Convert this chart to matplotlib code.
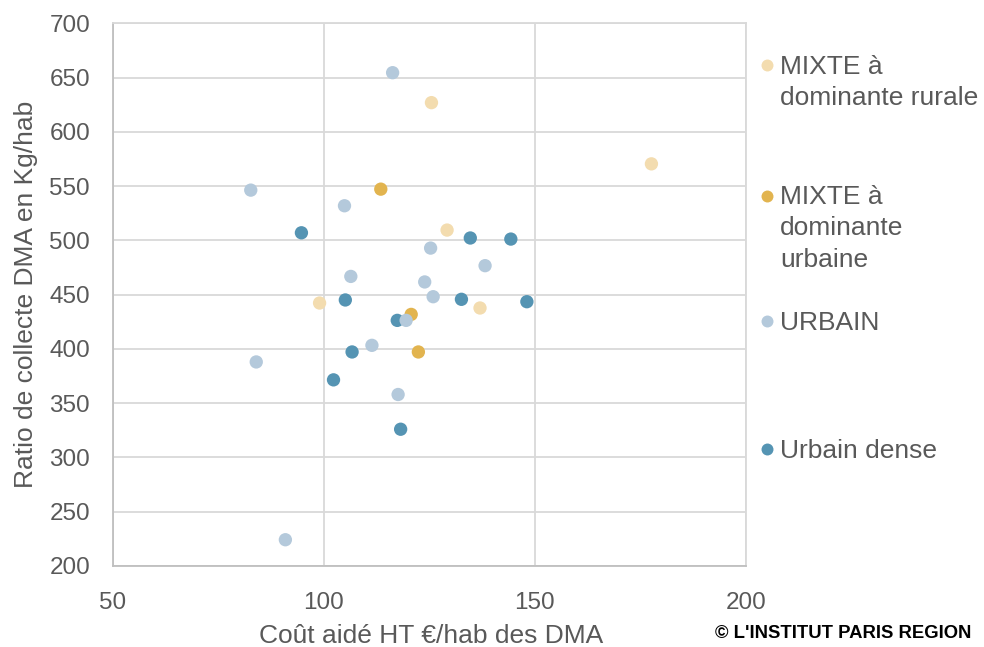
import matplotlib
matplotlib.use("Agg")
import matplotlib.pyplot as plt
from matplotlib.lines import Line2D

plt.rcParams['font.family'] = ['Liberation Sans', 'DejaVu Sans']

categories = ["MIXTE à\ndominante rurale", "MIXTE à\ndominante\nurbaine", "URBAIN", "Urbain dense"]
colors = ["#F3DCAF", "#E2B44F", "#B4C9DB", "#5594B3"]

rural_x = [125.5, 177.6, 129.2, 99.0, 137.0]
rural_y = [626.9, 570.5, 509.5, 442.3, 437.7]

mixurb_x = [113.5, 120.7, 122.4]
mixurb_y = [547.2, 431.8, 397.2]

urbain_x = [116.3, 82.7, 104.9, 125.3, 106.4, 123.9, 125.9, 138.2, 119.5, 111.4, 84.0, 117.6, 90.9]
urbain_y = [654.5, 546.3, 531.9, 492.9, 466.8, 461.7, 448.1, 476.7, 426.3, 403.3, 388.0, 358.0, 224.2]

dense_x = [94.7, 105.1, 134.7, 144.3, 132.6, 148.1, 117.4, 106.7, 102.3, 118.2]
dense_y = [507.0, 445.1, 502.2, 501.2, 445.7, 443.5, 426.3, 397.2, 371.5, 326.0]

x_ticks = [50, 100, 150, 200]
y_ticks = [200, 250, 300, 350, 400, 450, 500, 550, 600, 650, 700]

xlabel = "Coût aidé HT €/hab des DMA"
ylabel = "Ratio de collecte DMA en Kg/hab"
credit = "© L'INSTITUT PARIS REGION"

W, H = 984, 647
fig = plt.figure(figsize=(W / 100, H / 100), dpi=100)
ax = fig.add_axes([112.7 / W, 1 - 566 / H, (746 - 112.7) / W, (566 - 23.3) / H])

txt = "#595959"
ms = 92
series = [
    (rural_x, rural_y, colors[0]),
    (mixurb_x, mixurb_y, colors[1]),
    (dense_x, dense_y, colors[3]),
    (urbain_x, urbain_y, colors[2]),
]
for i, (xs, ys, c) in enumerate(series):
    ax.scatter(xs, ys, s=ms, color=c, edgecolors='none', zorder=3 + i)

ax.set_xlim(50, 200)
ax.set_ylim(200, 700)
ax.set_xticks(x_ticks)
ax.set_yticks(y_ticks)
ax.tick_params(length=0, labelsize=17.5, labelcolor=txt)
ax.tick_params(axis='x', pad=18.5)
ax.tick_params(axis='y', pad=16.3)
ax.grid(True, color="#D9D9D9", linewidth=1.3, zorder=0)
ax.set_axisbelow(True)
for side in ['top', 'right']:
    ax.spines[side].set_color("#D9D9D9")
    ax.spines[side].set_linewidth(1.3)
for side in ['left', 'bottom']:
    ax.spines[side].set_color("#BFBFBF")
    ax.spines[side].set_linewidth(1.3)

fig.text(431 / W, 1 - 643.3 / H, xlabel, ha='center', va='baseline', fontsize=19, color=txt)
fig.text(33.3 / W, 1 - 294.7 / H, ylabel, rotation=90, rotation_mode='anchor',
         ha='center', va='baseline', fontsize=19, color=txt)
fig.text(971.7 / W, 1 - 638.3 / H, credit, ha='right', va='baseline', fontsize=13.3,
         fontweight='bold', color='black')

# legend
top_y = [54.5, 184.5, 311.5, 439.5]
dot_y = [65, 196, 321, 449.3]
for lab, c, ty, dy in zip(categories, colors, top_y, dot_y):
    fig.add_artist(Line2D([767.3 / W], [1 - dy / H], marker='o', markersize=8.6,
                          color=c, markeredgewidth=0, linestyle='none',
                          transform=fig.transFigure))
    fig.text(780 / W, 1 - ty / H, lab, ha='left', va='top', fontsize=19,
             color=txt, linespacing=1.41)

fig.savefig("out.png", dpi=100)
